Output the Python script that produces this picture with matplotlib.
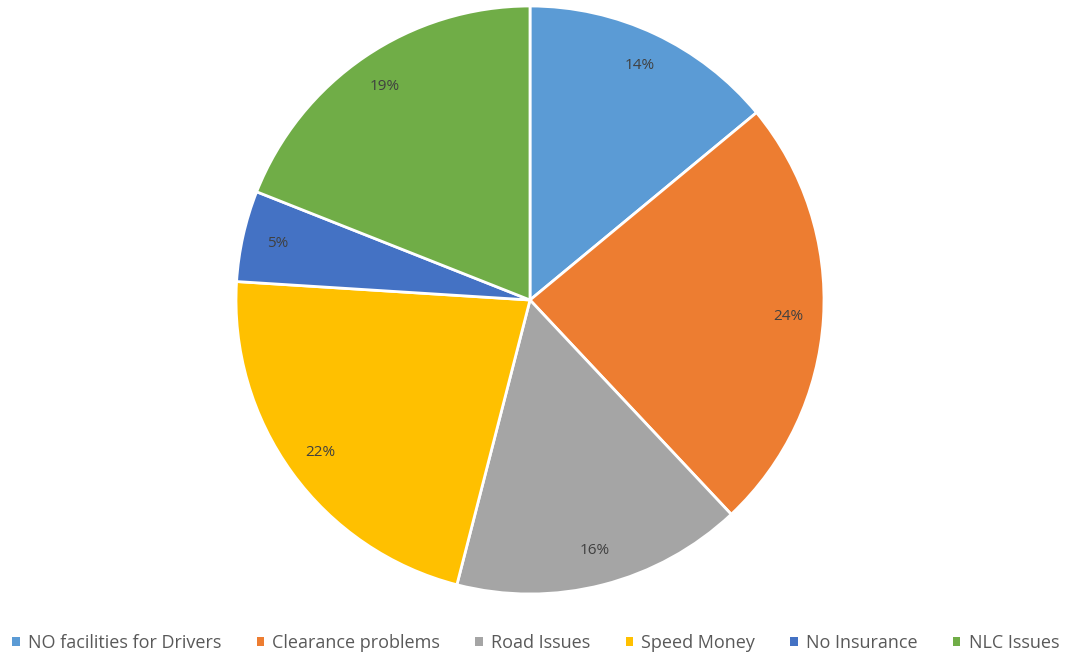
import numpy as np
import matplotlib
matplotlib.use('Agg')
import matplotlib.pyplot as plt

labels = ['NO facilities for Drivers', 'Clearance problems', 'Road Issues',
          'Speed Money', 'No Insurance', 'NLC Issues']
values = [14, 24, 16, 22, 5, 19]
colors = ['#5b9bd5', '#ed7d31', '#a5a5a5', '#ffc000', '#4472c4', '#70ad47']

plt.rcParams['font.family'] = ['Open Sans', 'DejaVu Sans']

fig = plt.figure(figsize=(10.65, 6.55), dpi=100)
W, H = 1065, 655
cx, cy, r = 530, 300, 294
ax = fig.add_axes([(cx - r) / W, (H - cy - r) / H, 2 * r / W, 2 * r / H])

wedges, texts, autotexts = ax.pie(
    values, colors=colors, startangle=90, counterclock=False,
    autopct='%d%%', pctdistance=0.88, radius=1,
    wedgeprops=dict(edgecolor='white', linewidth=2),
    textprops=dict(color='#404040', fontsize=11))
ax.set_aspect('equal')
ax.set_xlim(-1, 1)
ax.set_ylim(-1, 1)

leg = fig.legend(wedges, labels, loc='center', bbox_to_anchor=(0.503, 1 - 643 / H),
                 ncol=6, frameon=False, fontsize=13, handlelength=0.42,
                 handleheight=0.42, handletextpad=0.45, columnspacing=1.95)
for h in leg.legend_handles:
    h.set_linewidth(0)
for t in leg.get_texts():
    t.set_color('#595959')

fig.savefig('out.png', dpi=100)
